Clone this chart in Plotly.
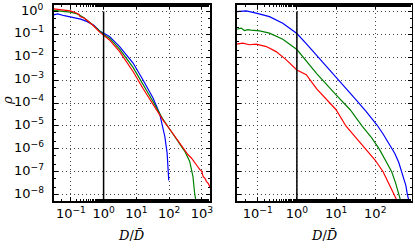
import plotly.graph_objects as go

# ---- data (log10 of D/Dbar, log10 of rho) ----
# left panel
L_blue_lx = [-1.53, -1.4, -1.2, -1.0, -0.7, -0.5, -0.3, -0.12, 0.0, 0.18, 0.49, 0.9, 1.2, 1.51, 1.71, 1.8, 1.87, 1.94, 1.97, 1.99]
L_blue_ly = [-0.14, -0.1, -0.18, -0.25, -0.33, -0.44, -0.6, -0.85, -0.95, -1.09, -1.53, -2.25, -2.98, -3.78, -4.45, -4.95, -5.46, -6.18, -7.0, -7.38]
L_green_lx = [-1.53, -1.3, -1.02, -0.8, -0.6, -0.4, -0.12, 0.0, 0.18, 0.49, 0.9, 1.2, 1.51, 1.71, 1.81, 2.0, 2.2, 2.48, 2.63, 2.73, 2.78, 2.82]
L_green_ly = [0.05, 0.03, -0.02, -0.1, -0.27, -0.5, -0.88, -1.0, -1.16, -1.64, -2.44, -3.16, -3.93, -4.45, -4.7, -5.1, -5.5, -6.11, -6.55, -7.21, -7.93, -8.28]
L_red_lx = [-1.53, -1.3, -1.02, -0.85, -0.75, -0.72, -0.6, -0.51, -0.3, -0.12, 0.0, 0.18, 0.49, 0.9, 1.2, 1.51, 1.71, 1.81, 2.0, 2.2, 2.48, 2.58, 2.68, 2.78, 2.86, 2.94, 3.0, 3.04, 3.1, 3.14, 3.2, 3.25]
L_red_ly = [0.12, 0.09, 0.03, -0.05, -0.12, -0.22, -0.28, -0.38, -0.63, -0.9, -1.04, -1.24, -1.75, -2.62, -3.35, -4.07, -4.51, -4.73, -5.1, -5.5, -6.11, -6.26, -6.4, -6.62, -6.75, -6.91, -6.98, -7.21, -7.3, -7.42, -7.52, -7.68]

# right panel
R_blue_lx = [-1.54, -1.29, -1.04, -0.7, -0.36, 0.0, 0.25, 0.5, 1.0, 1.5, 1.77, 2.05, 2.2, 2.32, 2.42, 2.5, 2.6, 2.68, 2.78, 2.82, 2.86]
R_blue_ly = [0.0, 0.03, -0.07, -0.22, -0.51, -0.96, -1.42, -1.9, -2.84, -3.84, -4.37, -4.97, -5.35, -5.7, -6.0, -6.2, -6.6, -7.0, -7.6, -8.0, -8.28]
R_green_lx = [-1.54, -1.42, -1.34, -1.25, -1.17, -1.08, -0.95, -0.7, -0.36, 0.0, 0.5, 1.0, 1.36, 1.66, 1.9, 2.1, 2.3, 2.42, 2.52, 2.6, 2.65]
R_green_ly = [-0.77, -0.72, -0.83, -0.79, -0.81, -0.83, -0.84, -0.94, -1.21, -1.66, -2.7, -3.64, -4.29, -5.0, -5.5, -6.0, -6.6, -7.0, -7.5, -8.0, -8.28]
R_red_lx = [-1.54, -1.38, -1.21, -1.04, -0.78, -0.53, -0.27, 0.0, 0.24, 0.5, 1.0, 1.25, 1.5, 1.75, 2.0, 2.2, 2.35, 2.48, 2.56]
R_red_ly = [-1.42, -1.38, -1.45, -1.42, -1.53, -1.75, -2.11, -2.55, -2.76, -3.37, -4.29, -5.0, -5.5, -6.0, -6.5, -7.0, -7.5, -8.0, -8.28]

# ticks
y_tick_exp = [0, -1, -2, -3, -4, -5, -6, -7, -8]
xL_tick_exp = [-1, 0, 1, 2, 3]
xR_tick_exp = [-1, 0, 1, 2]
ref_x = 1.0  # D / Dbar = 1
ref_top = 1.0

COLORS = {"blue": "#0000ff", "green": "#008000", "red": "#ff0000"}


def lab(e):
    s = str(e).replace("-", "\u2212")
    return f"10<sup>{s}</sup>"


def pw(a):
    return [10 ** v for v in a]


fig = go.Figure()
series = [
    ("x", "y", L_blue_lx, L_blue_ly, "blue"),
    ("x", "y", L_green_lx, L_green_ly, "green"),
    ("x", "y", L_red_lx, L_red_ly, "red"),
    ("x2", "y2", R_blue_lx, R_blue_ly, "blue"),
    ("x2", "y2", R_green_lx, R_green_ly, "green"),
    ("x2", "y2", R_red_lx, R_red_ly, "red"),
]
for xa, ya, lx, ly, c in series:
    fig.add_trace(go.Scatter(x=pw(lx), y=pw(ly), mode="lines", xaxis=xa, yaxis=ya,
                             line=dict(color=COLORS[c], width=1.2), showlegend=False,
                             hoverinfo="skip", cliponaxis=True))

y_range = [-8.28, 0.31]
for xr, yr in [("x", "y"), ("x2", "y2")]:
    fig.add_trace(go.Scatter(x=[ref_x, ref_x], y=[10 ** (y_range[0] - 0.5), ref_top], mode="lines",
                             xaxis=xr, yaxis=yr, line=dict(color="black", width=1.5),
                             showlegend=False, hoverinfo="skip"))

FONT = dict(family="DejaVu Sans", size=13, color="black")
common = dict(type="log", showline=True, linecolor="black", linewidth=1.5, mirror="allticks",
              ticks="inside", ticklen=4, tickwidth=1, tickcolor="black", automargin=False,
              showgrid=True, gridcolor="#444", gridwidth=1, griddash="1px,3px",
              zeroline=False, tickfont=FONT,
              minor=dict(ticks="inside", ticklen=2, tickcolor="black", showgrid=False))

fig.update_layout(
    width=415, height=249, margin=dict(l=0, r=0, t=0, b=0),
    paper_bgcolor="white", plot_bgcolor="white",
    xaxis=dict(domain=[53.5 / 415, 210 / 415], range=[-1.53, 3.25],
               tickvals=pw(xL_tick_exp), ticktext=[lab(e) for e in xL_tick_exp], anchor="y", **common),
    xaxis2=dict(domain=[236.7 / 415, 411.7 / 415], range=[-1.536, 2.93],
                tickvals=pw(xR_tick_exp), ticktext=[lab(e) for e in xR_tick_exp], anchor="y2", **common),
    yaxis=dict(domain=[1 - 201 / 249, 1 - 4.5 / 249], range=y_range,
               tickvals=pw(y_tick_exp), showticklabels=False, anchor="x", **common),
    yaxis2=dict(domain=[1 - 201 / 249, 1 - 4.5 / 249], range=y_range, matches="y",
                tickvals=pw(y_tick_exp), showticklabels=False, anchor="x2", **common),
)

# y tick labels placed on the y axis scale
for e in y_tick_exp:
    fig.add_annotation(text=lab(e), xref="paper", yref="y", x=46 / 415, y=e,
                       xanchor="right", yanchor="middle", yshift=2, showarrow=False, font=FONT)

TFONT = dict(family="DejaVu Serif", size=13, color="black")
for cx in [(53.5 + 210) / 2, (236.7 + 411.7) / 2]:
    fig.add_annotation(text="<i>D</i>/<i>D\u0304</i>", xref="paper", yref="paper",
                       x=cx / 415, y=1 - 235 / 249, xanchor="center", yanchor="middle",
                       showarrow=False, font=TFONT)
fig.add_annotation(text="<i>\u03c1</i>", xref="paper", yref="paper", textangle=-90,
                   x=8 / 415, y=1 - 101 / 249, xanchor="center", yanchor="middle",
                   showarrow=False, font=TFONT)

fig.write_html("out.html", config={"displayModeBar": False, "staticPlot": True},
               post_script="document.body.style.margin='0';document.body.style.overflow='hidden';")
